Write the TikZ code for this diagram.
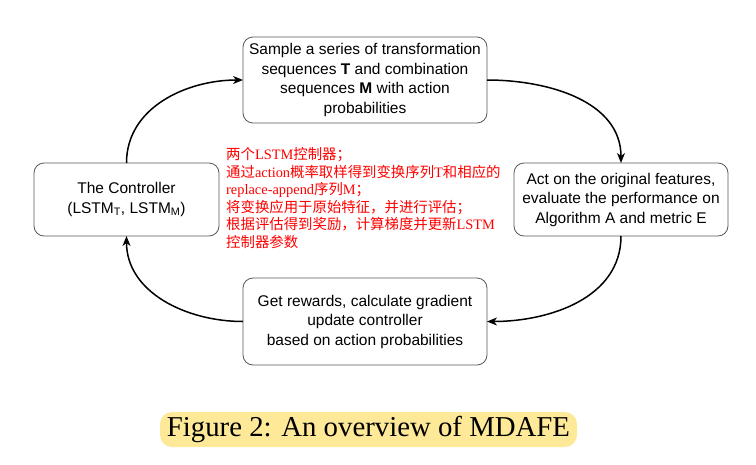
\documentclass[tikz,border=0pt]{standalone}
\usepackage{fontspec}
\setmainfont{Liberation Serif}
\newfontfamily\boxfont{Liberation Sans}
\newfontfamily\cjk{Noto Sans CJK SC}
\usetikzlibrary{arrows.meta}
\definecolor{hilite}{RGB}{253,233,152}

\begin{document}
\begin{tikzpicture}[x=1pt,y=1pt,
	stepbox/.style={draw=black!65,rounded corners=10pt,line width=0.8pt,inner sep=0,outer sep=0,align=center,font=\boxfont\fontsize{15.5}{19.5}\selectfont},
	flow/.style={line width=1.5pt,-{Stealth[length=10pt,width=8pt,inset=3pt]}}]
	\useasboundingbox (0,0) rectangle (756,-464);
	\node[stepbox,minimum width=244pt,minimum height=86pt] (sample) at (365,-80) {Sample a series of transformation\\ sequences \textbf{T} and combination\\ sequences \textbf{M} with action\\ probabilities};
	\node[stepbox,minimum width=185pt,minimum height=73pt] (ctrl) at (126.5,-199.5) {The Controller\\ (LSTM\textsubscript{T}, LSTM\textsubscript{M})};
	\node[stepbox,minimum width=214pt,minimum height=73pt] (act) at (621,-199.5) {Act on the original features,\\ evaluate the performance on\\ Algorithm A and metric E};
	\node[stepbox,minimum width=244pt,minimum height=87pt] (reward) at (365,-321.5) {Get rewards, calculate gradient\\ update controller\\ based on action probabilities};
	\node[anchor=north west,inner sep=0,align=left,text=red,font=\fontsize{14.4}{17.5}\selectfont] (notes) at (226,-147.5) {{\cjk 两个}LSTM{\cjk 控制器；}\\ {\cjk 通过}action{\cjk 概率取样得到变换序列}T{\cjk 和相应的}\\ replace-append{\cjk 序列}M{\cjk ；}\\ {\cjk 将变换应用于原始特征，并进行评估；}\\ {\cjk 根据评估得到奖励，计算梯度并更新}LSTM\\ {\cjk 控制器参数}};
	\node[fill=hilite,rounded corners=12pt,inner sep=0,minimum width=417pt,minimum height=35pt,font=\fontsize{28.8}{30}\selectfont] (caption) at (368.5,-429.5) {Figure 2: An overview of MDAFE};
	\draw[flow] (ctrl.north) to[out=90,in=180] (sample.west);
	\draw[flow] (sample.east) to[out=0,in=90] (act.north);
	\draw[flow] (act.south) to[out=-90,in=0] (reward.east);
	\draw[flow] (reward.west) to[out=180,in=-90] (ctrl.south);
\end{tikzpicture}
\end{document}
